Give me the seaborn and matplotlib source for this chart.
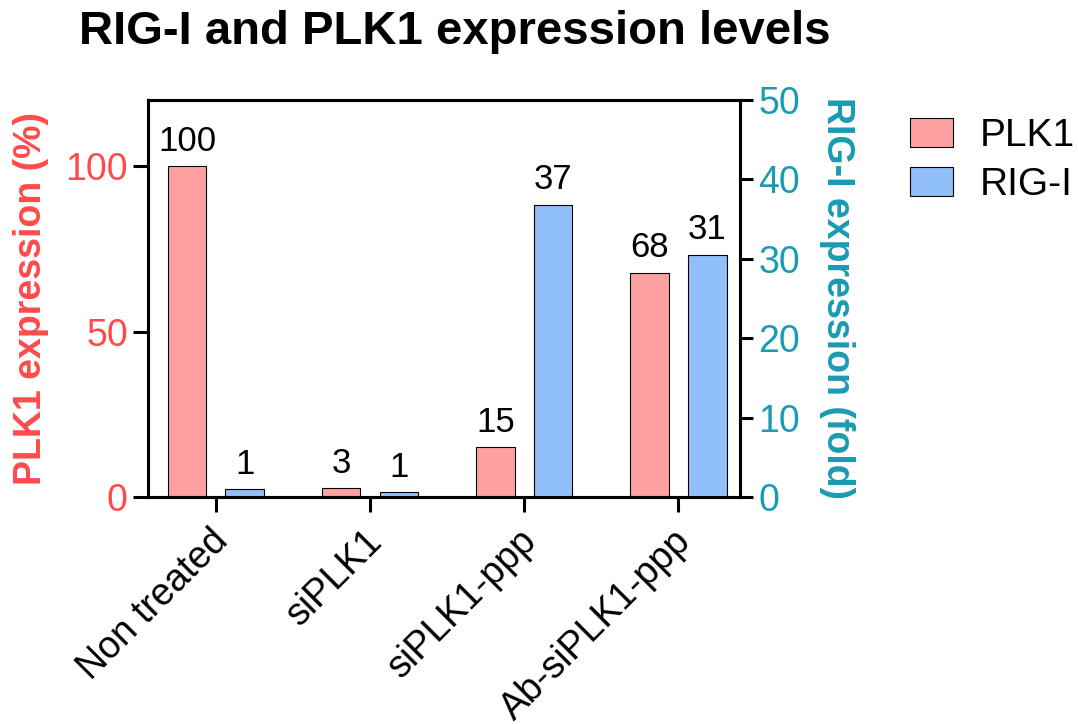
import numpy as np
import pandas as pd
import matplotlib
matplotlib.use("Agg")
import matplotlib.pyplot as plt
import seaborn as sns
from matplotlib.patches import Patch
from matplotlib.transforms import ScaledTranslation

# data
treatments = ["Non treated", "siPLK1", "siPLK1-ppp", "Ab-siPLK1-ppp"]
plk1_values = [100, 2.7, 15, 67.8]
rigi_values = [1.0, 0.6, 36.8, 30.5]
plk1_labels = ["100", "3", "15", "68"]
rigi_labels = ["1", "1", "37", "31"]
genes = ["PLK1", "RIG-I"]

pink = "#FFA1A1"
blue = "#91BFF9"
red_txt = "#FF4A4A"
teal_txt = "#1A9BB3"

sns.set_style("white")
plt.rcParams["font.family"] = ["Liberation Sans", "DejaVu Sans"]
plt.rcParams["text.color"] = "black"
plt.rcParams["xtick.color"] = "black"
plt.rcParams["ytick.color"] = "black"
plt.rcParams["xtick.bottom"] = True
plt.rcParams["ytick.left"] = True

df = pd.DataFrame({
    "treatment": treatments * 2,
    "gene": ["PLK1"] * 4 + ["RIG-I"] * 4,
    "value": plk1_values + rigi_values,
})

fig = plt.figure(figsize=(10.78, 7.24), dpi=100)
ax = fig.add_axes([0.1373, 0.3135, 0.5492, 0.5485])
ax2 = ax.twinx()

bar_kw = dict(x="treatment", y="value", hue="gene", hue_order=genes,
              order=treatments, palette=[pink, blue], saturation=1,
              width=0.75, gap=1/3, edgecolor="black", linewidth=0.8,
              legend=False)
# draw both series on each axis so seaborn dodges them, then keep one per axis
sns.barplot(data=df, ax=ax, **bar_kw)
sns.barplot(data=df, ax=ax2, **bar_kw)
for p in ax.containers[1]:
    p.remove()
for p in ax2.containers[0]:
    p.remove()

ax.bar_label(ax.containers[0], labels=plk1_labels, padding=6, fontsize=25)
ax2.bar_label(ax2.containers[1], labels=rigi_labels, padding=6, fontsize=25)

ax.set_xlim(-0.44, 3.40)
ax.set_ylim(0, 120)
ax2.set_ylim(0, 50)
ax.set_yticks([0, 50, 100])
ax2.set_yticks([0, 10, 20, 30, 40, 50])

for a in (ax, ax2):
    for s in a.spines.values():
        s.set_linewidth(2.2)
        s.set_color("black")
ax.tick_params(axis="both", length=10.5, width=2.2, color="black", labelsize=27)
ax.tick_params(axis="y", labelcolor=red_txt, pad=4)
ax2.tick_params(axis="y", length=9, width=2.2, color="black", labelsize=27,
                labelcolor=teal_txt, pad=4)
ax.tick_params(axis="x", pad=8)
ax.set_xticks(range(len(treatments)))
ax.set_xticklabels(treatments, rotation=45, ha="right", rotation_mode="anchor",
                   fontsize=27)
shift = ScaledTranslation(-6 / 100, 0, fig.dpi_scale_trans)
for lab in ax.get_xticklabels():
    lab.set_transform(lab.get_transform() + shift)

ax.set_xlabel("")
ax.set_ylabel("PLK1 expression (%)", color=red_txt, fontsize=27,
              fontweight="bold", labelpad=12)
ax2.set_ylabel("RIG-I expression (fold)", color=teal_txt, fontsize=27,
               fontweight="bold", rotation=270, labelpad=40)
ax.set_title("RIG-I and PLK1 expression levels", fontsize=34,
             fontweight="bold", pad=40, x=0.519)

handles = [Patch(facecolor=pink, edgecolor="black", linewidth=0.8),
           Patch(facecolor=blue, edgecolor="black", linewidth=0.8)]
fig.legend(handles, genes, loc="upper left", bbox_to_anchor=(0.844, 0.837),
           frameon=False, fontsize=28, handlelength=1.1, handleheight=0.77,
           handletextpad=0.7, labelspacing=0.33, borderpad=0, borderaxespad=0)

fig.savefig("out.png", dpi=100)
